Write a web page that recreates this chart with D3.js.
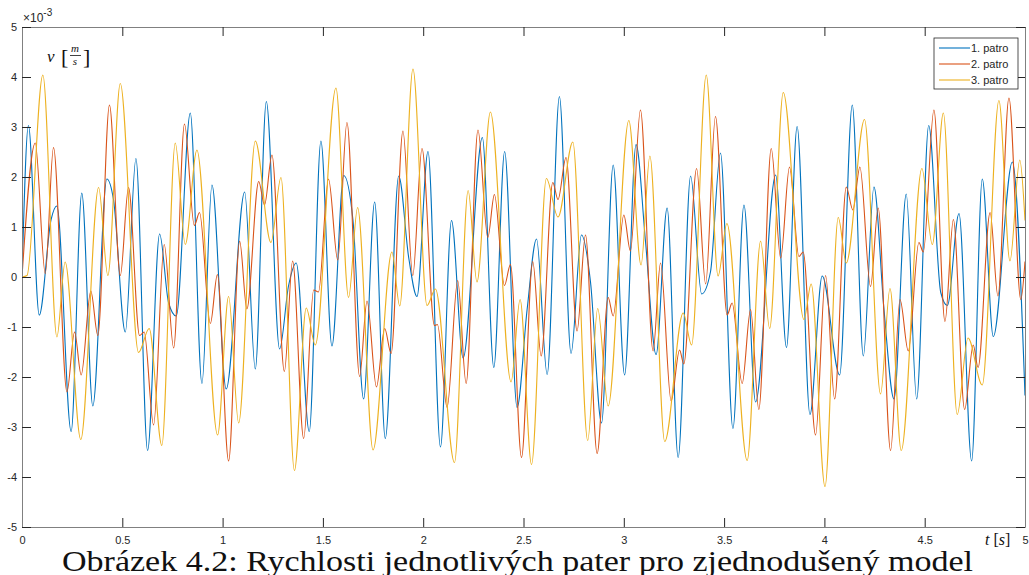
<!DOCTYPE html>
<html>
<head>
<meta charset="utf-8">
<script src="https://cdn.jsdelivr.net/npm/d3@7"></script>
<style>
  body { margin: 0; background: #fff; }
  text { font-family: "Liberation Sans", Arial, sans-serif; }
  .serif { font-family: "Liberation Serif", "Times New Roman", serif; }
</style>
</head>
<body>
<div id="chart"></div>
<script>
// Chart dimensions
const width = 1029;
const height = 575;
const margin = { left: 22, right: 4, top: 27, bottom: 48 };

// Tick values
const xTicks = [0, 0.5, 1, 1.5, 2, 2.5, 3, 3.5, 4, 4.5, 5];
const yTicks = [-5, -4, -3, -2, -1, 0, 1, 2, 3, 4, 5];

const seriesNames = ["1. patro", "2. patro", "3. patro"];
const seriesColors = ["#0072BD", "#D95319", "#EDB120"];

// [t (s), v (x10^-3 m/s)] (turning points)
const patro1 = [
  [0, 0], [0.032, 3.03], [0.086, -0.76], [0.145, 1.15], [0.174, 1.42], [0.245, -3.09],
  [0.298, 1.68], [0.353, -2.58], [0.423, 1.96], [0.456, 1.55], [0.515, -1.10], [0.568, 2.37],
  [0.626, -3.47], [0.686, 0.86], [0.731, -0.52], [0.769, -0.78], [0.839, 3.28], [0.897, -2.13],
  [0.947, 1.84], [1.018, -2.24], [1.110, 1.70], [1.163, -1.84], [1.218, 3.51], [1.284, -1.44],
  [1.329, -0.17], [1.367, 0.28], [1.432, -3.09], [1.490, 2.72], [1.545, -1.38], [1.604, 2.03],
  [1.650, 1.13], [1.703, -2.44], [1.758, 1.50], [1.811, -3.23], [1.878, 2.02], [1.928, 0.38],
  [1.969, -0.39], [2.024, 2.51], [2.086, -3.40], [2.141, 1.13], [2.199, -1.62], [2.295, 2.79],
  [2.352, -1.81], [2.406, 2.51], [2.468, -2.61], [2.518, -0.65], [2.565, 0.76], [2.618, -1.95],
  [2.679, 3.61], [2.737, -1.53], [2.789, 0.84], [2.834, -0.10], [2.889, -2.92], [2.947, 2.24],
  [3.004, -1.96], [3.061, 2.65], [3.108, 0.72], [3.161, -1.55], [3.216, 1.38], [3.271, -3.61],
  [3.333, 2.02], [3.388, -0.34], [3.432, 0.10], [3.482, 2.48], [3.544, -3.03], [3.599, 1.44],
  [3.657, -2.50], [3.757, 2.04], [3.811, -1.41], [3.864, 3.01], [3.928, -2.75], [3.989, 0.02],
  [4.076, -1.96], [4.139, 3.44], [4.194, -1.58], [4.247, 1.80], [4.297, -0.65], [4.347, -2.44],
  [4.408, 1.66], [4.460, -2.44], [4.520, 3.03], [4.580, -0.31], [4.613, -0.57], [4.671, 1.27],
  [4.734, -3.68], [4.787, 1.96], [4.842, -1.19], [4.937, 2.30], [5.0, -2.37]
];

const patro2 = [
  [0, 0], [0.066, 2.68], [0.116, 0.07], [0.157, 2.59], [0.224, -2.30], [0.262, -1.10],
  [0.295, -1.96], [0.343, -0.28], [0.378, -1.17], [0.436, 3.44], [0.490, 0.03], [0.531, 1.79],
  [0.586, -1.17], [0.609, -1.10], [0.656, -2.96], [0.709, 0.65], [0.756, -1.42], [0.810, 3.06],
  [0.859, 1.03], [0.885, 1.29], [0.939, -0.93], [0.974, 0.05], [1.030, -3.68], [1.085, 0.72],
  [1.121, -0.64], [1.180, 1.91], [1.209, 1.44], [1.246, 2.44], [1.308, -1.89], [1.349, 0.32],
  [1.404, -3.23], [1.454, -0.26], [1.478, -0.30], [1.528, 1.96], [1.574, 0.34], [1.620, 3.09],
  [1.683, -1.99], [1.720, -0.48], [1.767, -2.20], [1.808, -1.03], [1.840, -1.53], [1.899, 2.92],
  [1.948, 0.03], [1.994, 2.57], [2.056, -0.97], [2.071, -0.95], [2.119, -2.61], [2.172, -0.07],
  [2.214, -2.13], [2.273, 2.94], [2.322, 0.79], [2.355, 1.65], [2.405, -0.17], [2.435, 0.25],
  [2.490, -3.61], [2.546, 0.31], [2.588, -1.58], [2.646, 1.89], [2.672, 1.55], [2.712, 2.39],
  [2.767, -1.08], [2.809, 0.84], [2.867, -3.53], [2.922, -0.41], [2.947, -0.78], [3.000, 1.24],
  [3.033, 0.52], [3.083, 3.34], [3.146, -1.48], [3.183, 0.28], [3.236, -2.48], [3.278, -1.46],
  [3.299, -1.74], [3.363, 2.17], [3.408, -0.14], [3.457, 3.21], [3.515, -0.76], [3.540, -0.52],
  [3.590, -2.13], [3.632, -0.65], [3.673, -2.65], [3.735, 2.57], [3.782, 0.38], [3.826, 2.20],
  [3.873, 0.41], [3.894, 0.50], [3.956, -3.16], [4.006, 0.03], [4.051, -2.44], [4.109, 1.80],
  [4.142, 1.34], [4.177, 2.20], [4.230, -0.19], [4.268, 1.38], [4.330, -3.47], [4.377, -0.45],
  [4.418, -1.48], [4.471, 0.69], [4.493, 0.50], [4.546, 3.34], [4.601, -0.89], [4.643, 1.15],
  [4.699, -2.65], [4.742, -1.36], [4.766, -1.81], [4.826, 1.29], [4.865, -0.38], [4.920, 3.58],
  [4.979, -0.45], [5.0, 0.31]
];

const patro3 = [
  [0, 0], [0.025, 0.03], [0.104, 4.04], [0.174, -1.20], [0.215, 0.30], [0.293, -3.25],
  [0.382, 1.79], [0.428, 0.03], [0.490, 3.87], [0.581, -1.51], [0.634, -1.03], [0.697, -3.37],
  [0.764, 2.68], [0.814, 0.65], [0.872, 2.54], [0.975, -3.16], [1.030, -0.39], [1.080, -2.92],
  [1.163, 2.72], [1.241, 0.69], [1.291, 1.99], [1.358, -3.87], [1.417, -0.62], [1.462, -1.36],
  [1.565, 3.78], [1.628, -0.41], [1.673, 1.39], [1.750, -3.46], [1.844, 0.50], [1.883, -0.58],
  [1.949, 4.16], [2.019, -0.57], [2.061, -0.24], [2.156, -3.71], [2.224, 1.73], [2.268, -0.10],
  [2.335, 3.30], [2.438, -2.10], [2.483, -0.45], [2.540, -3.75], [2.614, 1.97], [2.672, 1.20],
  [2.746, 2.70], [2.820, -3.27], [2.870, -0.63], [2.922, -2.58], [3.025, 3.13], [3.086, 0.24],
  [3.130, 2.42], [3.204, -3.29], [3.296, -0.72], [3.338, -1.36], [3.411, 4.04], [3.470, 0.02],
  [3.514, 1.07], [3.615, -3.67], [3.682, 0.72], [3.727, -1.03], [3.795, 3.69], [3.898, -0.85],
  [3.934, -0.14], [4.003, -4.19], [4.069, 1.19], [4.109, 0.28], [4.200, 3.15], [4.280, -2.34],
  [4.327, -0.23], [4.383, -3.47], [4.486, 2.17], [4.538, 0.65], [4.593, 3.28], [4.662, -2.75],
  [4.716, -1.22], [4.787, -2.16], [4.870, 3.53], [4.925, 0.32], [4.974, 2.34], [5.0, 1.13]
];

const series = [patro1, patro2, patro3];

const svg = d3.select("#chart")
  .append("svg")
  .attr("width", width)
  .attr("height", height);

const x0 = margin.left, x1 = width - margin.right;
const y0 = margin.top, y1 = height - margin.bottom;

const xScale = d3.scaleLinear().domain([0, 5]).range([x0, x1]);
const yScale = d3.scaleLinear().domain([-5, 5]).range([y1, y0]);

svg.append("clipPath").attr("id", "plot-clip")
  .append("rect")
  .attr("x", x0).attr("y", y0)
  .attr("width", x1 - x0).attr("height", y1 - y0);

// Lines
const line = d3.line()
  .x((d) => xScale(d[0]))
  .y((d) => yScale(d[1]))
  .curve(d3.curveMonotoneX);

svg.append("g")
  .attr("clip-path", "url(#plot-clip)")
  .selectAll("path")
  .data(series)
  .enter()
  .append("path")
  .attr("d", line)
  .attr("fill", "none")
  .attr("stroke", (d, i) => seriesColors[i])
  .attr("stroke-width", 1.1);

// Axes (box with inward ticks)
const tickLen = 9;
const axisColor = "#808080";
const labelColor = "#262626";
const plain = (d) => String(d);

const styleAxis = (g) => {
  g.select(".domain").attr("stroke", axisColor);
  g.selectAll(".tick line").attr("stroke", "#262626");
  g.selectAll(".tick text").attr("fill", labelColor).style("font-size", "11px");
};

svg.append("g")
  .attr("transform", `translate(0, ${y1})`)
  .call(d3.axisBottom(xScale).tickValues(xTicks).tickSizeInner(-tickLen).tickSizeOuter(0)
    .tickPadding(9).tickFormat(plain))
  .call(styleAxis);

svg.append("g")
  .attr("transform", `translate(0, ${y0})`)
  .call(d3.axisTop(xScale).tickValues(xTicks).tickSizeInner(-tickLen).tickSizeOuter(0).tickFormat(""))
  .call(styleAxis);

svg.append("g")
  .attr("transform", `translate(${x0}, 0)`)
  .call(d3.axisLeft(yScale).tickValues(yTicks).tickSizeInner(-tickLen).tickSizeOuter(0)
    .tickPadding(5).tickFormat(plain))
  .call(styleAxis);

svg.append("g")
  .attr("transform", `translate(${x1}, 0)`)
  .call(d3.axisRight(yScale).tickValues(yTicks).tickSizeInner(-tickLen).tickSizeOuter(0).tickFormat(""))
  .call(styleAxis);

// Exponent label
const expo = svg.append("text")
  .attr("x", x0 + 1)
  .attr("y", y0 - 5)
  .attr("fill", labelColor)
  .style("font-size", "12px");
expo.append("tspan").text("\u00d710");
expo.append("tspan").attr("dy", -6).style("font-size", "10px").text("-3");

// Y label: v [m/s]
const yl = svg.append("g").attr("fill", "#111");
yl.append("text").attr("class", "serif").attr("x", 47).attr("y", 62)
  .style("font-style", "italic").style("font-size", "17px").text("v");
yl.append("text").attr("class", "serif").attr("x", 61).attr("y", 64)
  .style("font-size", "22px").text("[");
yl.append("text").attr("class", "serif").attr("x", 75).attr("y", 52)
  .attr("text-anchor", "middle").style("font-style", "italic").style("font-size", "11px").text("m");
yl.append("line").attr("x1", 70).attr("x2", 81).attr("y1", 55.5).attr("y2", 55.5)
  .attr("stroke", "#111").attr("stroke-width", 0.8);
yl.append("text").attr("class", "serif").attr("x", 75).attr("y", 65)
  .attr("text-anchor", "middle").style("font-style", "italic").style("font-size", "11px").text("s");
yl.append("text").attr("class", "serif").attr("x", 83).attr("y", 64)
  .style("font-size", "22px").text("]");

// X label: t [s]
const xl = svg.append("text").attr("class", "serif")
  .attr("x", 985).attr("y", 545)
  .attr("fill", "#111")
  .style("font-size", "16px");
xl.append("tspan").style("font-style", "italic").text("t");
xl.append("tspan").text(" [");
xl.append("tspan").style("font-style", "italic").text("s");
xl.append("tspan").text("]");

// Legend
const legend = svg.append("g").attr("id", "legend");
legend.append("rect")
  .attr("x", 934).attr("y", 38)
  .attr("width", 84).attr("height", 51)
  .attr("fill", "#fff")
  .attr("stroke", "#262626")
  .attr("stroke-width", 0.8);

seriesNames.forEach((name, i) => {
  const ly = 48 + i * 16;
  legend.append("line")
    .attr("x1", 939).attr("x2", 970)
    .attr("y1", ly).attr("y2", ly)
    .attr("stroke", seriesColors[i])
    .attr("stroke-width", 1.1);
  legend.append("text")
    .attr("x", 971).attr("y", ly + 4)
    .attr("fill", labelColor)
    .style("font-size", "11px")
    .text(name);
});

// Caption
svg.append("text")
  .attr("class", "serif")
  .attr("x", 62)
  .attr("y", 571)
  .attr("textLength", 911)
  .attr("lengthAdjust", "spacingAndGlyphs")
  .attr("fill", "#111")
  .style("font-size", "30px")
  .text("Obrázek 4.2: Rychlosti jednotlivých pater pro zjednodušený model");
</script>
</body>
</html>
